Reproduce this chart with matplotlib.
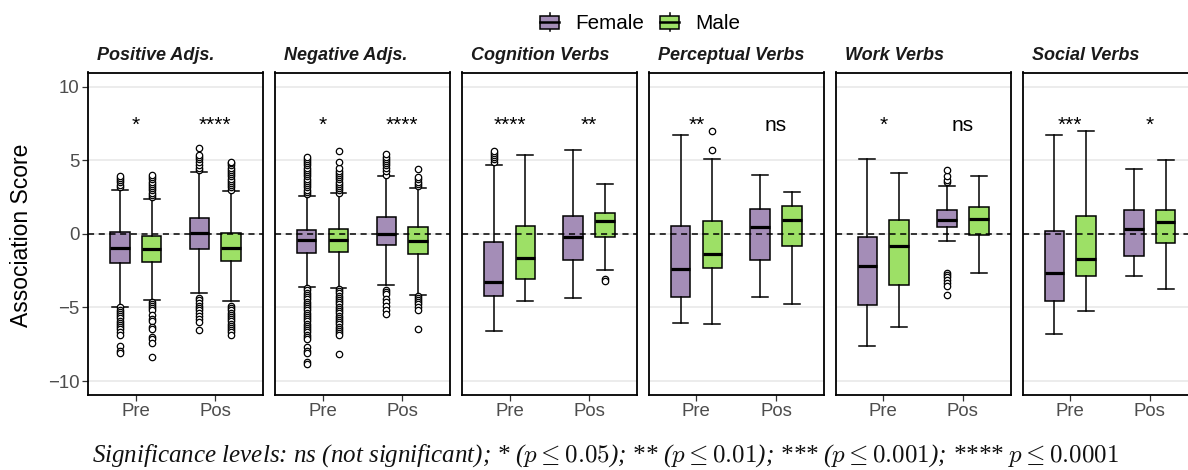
import matplotlib
matplotlib.use("Agg")
import matplotlib.pyplot as plt
from matplotlib.patches import Rectangle, Patch
from matplotlib.lines import Line2D
from matplotlib.legend_handler import HandlerBase

plt.rcParams['font.family'] = ['Liberation Sans', 'DejaVu Sans']
plt.rcParams['mathtext.fontset'] = 'cm'

# ---------------- data ----------------
categories = ["Positive Adjs.", "Negative Adjs.", "Cognition Verbs",
              "Perceptual Verbs", "Work Verbs", "Social Verbs"]
periods = ["Pre", "Pos"]
genders = ["Female", "Male"]
colors = ["#A48DB7", "#9DE066"]

# indexed [category][period][gender]
whislo = [
    [[-4.94, -4.49], [-4.04, -4.53]],
    [[-3.63, -3.65], [-3.47, -4.15]],
    [[-6.60, -4.54], [-4.38, -2.45]],
    [[-6.03, -6.12], [-4.26, -4.79]],
    [[-7.60, -6.30], [-0.46, -2.63]],
    [[-6.80, -5.24], [-2.84, -3.74]],
]
q1 = [
    [[-1.95, -1.93], [-1.02, -1.84]],
    [[-1.27, -1.25], [-0.75, -1.38]],
    [[-4.22, -3.06], [-1.81, -0.22]],
    [[-4.31, -2.29], [-1.81, -0.86]],
    [[-4.83, -3.47], [0.45, -0.11]],
    [[-4.56, -2.86], [-1.54, -0.63]],
]
med = [
    [[-0.97, -1.04], [0.05, -0.97]],
    [[-0.45, -0.45], [-0.03, -0.52]],
    [[-3.29, -1.65], [-0.22, 0.84]],
    [[-2.40, -1.36], [0.43, 0.95]],
    [[-2.18, -0.86], [0.94, 1.00]],
    [[-2.68, -1.68], [0.32, 0.77]],
]
q3 = [
    [[0.10, -0.14], [1.07, 0.05]],
    [[0.27, 0.36], [1.11, 0.48]],
    [[-0.57, 0.50], [1.22, 1.41]],
    [[0.50, 0.84], [1.70, 1.90]],
    [[-0.20, 0.95], [1.62, 1.81]],
    [[0.16, 1.18], [1.59, 1.63]],
]
whishi = [
    [[2.97, 2.38], [4.17, 2.88]],
    [[2.58, 2.74], [3.90, 3.11]],
    [[4.69, 5.33], [5.67, 3.40]],
    [[6.69, 5.10], [4.01, 2.84]],
    [[5.10, 4.15], [3.27, 3.95]],
    [[6.69, 7.00], [4.42, 5.03]],
]
outliers = [
    [[[3.2, 3.35, 3.5, 3.65, 3.8, 3.95,
       -5.0, -5.15, -5.3, -5.45, -5.6, -5.75, -5.9, -6.05, -6.2, -6.35, -6.5,
       -6.65, -6.85, -7.65, -7.95, -8.1],
      [2.5, 2.65, 2.8, 2.95, 3.1, 3.25, 3.4, 3.55, 3.7, 3.85, 4.0,
       -4.6, -4.75, -4.9, -5.05, -5.2, -5.5, -5.8, -5.95, -6.3, -6.45, -7.0,
       -7.15, -7.4, -8.35]],
     [[4.35, 4.5, 4.7, 4.9, 5.05, 5.2, 5.35, 5.8,
       -4.35, -4.5, -4.7, -4.9, -5.05, -5.2, -5.4, -5.6, -5.8, -6.0, -6.55],
      [3.0, 3.15, 3.3, 3.45, 3.6, 3.75, 3.9, 4.05, 4.2, 4.35, 4.5, 4.65, 4.8, 4.9,
       -4.9, -5.05, -5.2, -5.35, -5.5, -5.65, -5.8, -5.95, -6.1, -6.25, -6.4,
       -6.55, -6.7, -6.85]]],
    [[[2.7, 2.85, 3.0, 3.15, 3.3, 3.45, 3.6, 3.75, 3.9, 4.05, 4.2, 4.35, 4.5,
       4.65, 4.8, 4.95, 5.1, 5.25,
       -3.7, -3.85, -4.0, -4.15, -4.3, -4.45, -4.6, -4.75, -4.9, -5.05, -5.2,
       -5.35, -5.5, -5.65, -5.8, -5.95, -6.1, -6.25, -6.4, -6.55, -6.7, -6.85,
       -7.0, -7.15, -7.7, -7.95, -8.1, -8.7, -8.85],
      [2.8, 2.95, 3.1, 3.25, 3.4, 3.55, 3.7, 3.85, 4.0, 4.15, 4.3, 4.45, 4.9, 5.6,
       -3.75, -3.9, -4.05, -4.2, -4.35, -4.5, -4.65, -4.8, -4.95, -5.1, -5.25,
       -5.4, -5.55, -5.7, -5.85, -6.0, -6.15, -6.3, -6.45, -6.6, -6.75, -6.9,
       -8.15]],
     [[4.0, 4.3, 4.5, 4.65, 4.8, 4.95, 5.1, 5.25, 5.4,
       -3.8, -3.95, -4.1, -4.4, -4.6, -4.9, -5.15, -5.45],
      [3.25, 3.4, 3.55, 3.7, 3.85, 4.4,
       -4.2, -4.35, -4.5, -4.65, -4.8, -5.0, -5.15, -6.5]]],
    [[[4.9, 5.05, 5.2, 5.35, 5.5, 5.65], []],
     [[], [-3.1, -3.2]]],
    [[[], [5.7, 7.0]],
     [[], []]],
    [[[], []],
     [[3.49, 3.67, 3.95, 4.35, -2.63, -2.79, -2.95, -3.13, -3.36, -3.54, -4.15], []]],
    [[[], []],
     [[], []]],
]
sig_labels = [["*", "****"], ["*", "****"], ["****", "**"],
              ["**", "ns"], ["*", "ns"], ["***", "*"]]
sig_y = 7.0
yticks = [-10, -5, 0, 5, 10]

# ---------------- layout ----------------
W, H = 1188, 470
fig = plt.figure(figsize=(W / 100, H / 100), dpi=100)

panel_w = 175
panel_step = 186.9
left0 = 88
top_px, bot_px = 72.5, 395
dodge = 0.2
box_w = 0.245
cap_w = 0.2

for ci, cat in enumerate(categories):
    lx = left0 + ci * panel_step
    ax = fig.add_axes([lx / W, (H - bot_px) / H, panel_w / W, (bot_px - top_px) / H])
    ax.set_xlim(0.4, 2.6)
    ax.set_ylim(-10.95, 10.96)
    for yv in yticks:
        ax.axhline(yv, color="#EBEBEB", lw=1.3, zorder=0)
    for pi, per in enumerate(periods):
        for gi, g in enumerate(genders):
            pos = pi + 1 + (gi * 2 - 1) * dodge
            stats = [dict(med=med[ci][pi][gi], q1=q1[ci][pi][gi], q3=q3[ci][pi][gi],
                          whislo=whislo[ci][pi][gi], whishi=whishi[ci][pi][gi],
                          fliers=outliers[ci][pi][gi])]
            ax.bxp(stats, positions=[pos], widths=[box_w], capwidths=[cap_w],
                   patch_artist=True, manage_ticks=False,
                   boxprops=dict(facecolor=colors[gi], edgecolor="black", linewidth=1.1),
                   medianprops=dict(color="black", linewidth=2.3),
                   whiskerprops=dict(color="black", linewidth=1.1),
                   capprops=dict(color="black", linewidth=1.1),
                   flierprops=dict(marker="o", markersize=4.6, markerfacecolor="white",
                                   markeredgecolor="black", markeredgewidth=0.9))
        ax.text(pi + 1, sig_y, sig_labels[ci][pi], ha="center", va="baseline",
                fontsize=15, color="black", zorder=5)
    ax.axhline(0, color="black", lw=1.1, ls=(0, (4, 3)), zorder=6)
    ax.set_xticks([1, 2])
    ax.set_xticklabels(periods, fontsize=13.4, color="#4D4D4D")
    ax.set_yticks(yticks)
    if ci == 0:
        ax.set_yticklabels(["\u221210", "\u22125", "0", "5", "10"], fontsize=13.4, color="#4D4D4D")
        ax.tick_params(axis="y", length=4, width=0.9, color="#333333", pad=2)
    else:
        ax.tick_params(axis="y", length=0, labelleft=False)
    ax.tick_params(axis="x", length=4, width=0.9, color="#333333", pad=2)
    for sp in ax.spines.values():
        sp.set_linewidth(1.3)
        sp.set_color("black")
    ax.text(9 / panel_w, 1 + 12.5 / (bot_px - top_px), cat, transform=ax.transAxes,
            ha="left", va="baseline", fontsize=13, fontweight="bold", fontstyle="italic",
            color="#1A1A1A")

fig.text(21.7 / W, 1 - 235 / H, "Association Score", rotation=90, ha="center",
         va="center", fontsize=16.5, color="black")


class BoxKey(HandlerBase):
    def create_artists(self, legend, orig_handle, xdescent, ydescent, width, height,
                       fontsize, trans):
        x0, y0 = -xdescent, -ydescent
        fc = orig_handle.get_facecolor()
        bx0, bx1 = x0, x0 + width
        by0, by1 = y0 + height * 0.15, y0 + height * 0.85
        cx = x0 + width / 2
        wl = Line2D([cx, cx], [y0, by0], color="black", lw=1.1, transform=trans)
        wh = Line2D([cx, cx], [by1, y0 + height], color="black", lw=1.1, transform=trans)
        rect = Rectangle((bx0, by0), width, by1 - by0, facecolor=fc, edgecolor="black",
                         lw=1.1, transform=trans)
        md = Line2D([bx0, bx1], [(by0 + by1) / 2] * 2, color="black", lw=1.8,
                    transform=trans)
        return [wl, wh, rect, md]


handles = [Patch(facecolor=c) for c in colors]
fig.legend(handles, genders, handler_map={Patch: BoxKey()}, loc="center",
           bbox_to_anchor=(640 / W, 1 - 23 / H), ncol=2, frameon=False,
           fontsize=14.9, handlelength=0.92, handleheight=1.0, handletextpad=0.75,
           columnspacing=0.8, borderpad=0, borderaxespad=0)

caption = (r"Significance levels: ns (not significant); * ($p \leq 0.05$); "
           r"** ($p \leq 0.01$); *** ($p \leq 0.001$); **** $p \leq 0.0001$")
fig.text(605 / W, 1 - 456 / H, caption, ha="center", va="center", fontsize=18,
         family=["Liberation Serif", "DejaVu Serif"], style="italic", color="#111111")

fig.savefig("out.png", dpi=100)
